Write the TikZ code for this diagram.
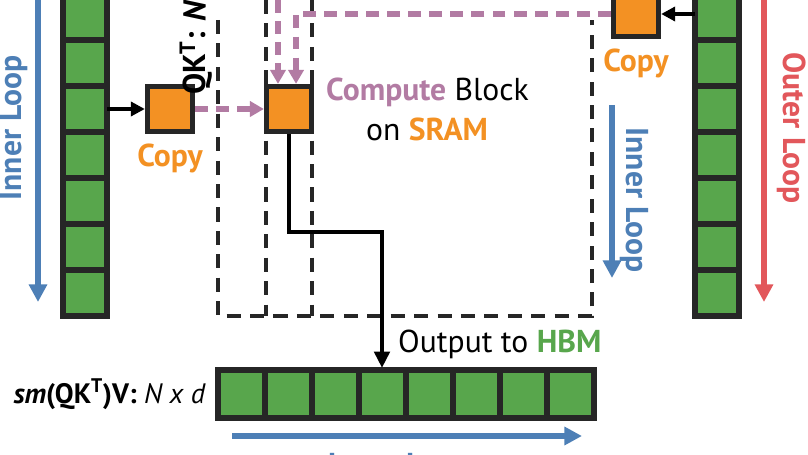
\documentclass[tikz,border=0pt]{standalone}
\usepackage{fontspec}
\setmainfont{PT Sans}
\usetikzlibrary{positioning,arrows.meta}
\definecolor{hbm}{HTML}{58A64C}
\definecolor{sram}{HTML}{F39123}
\definecolor{pinkish}{HTML}{B27BA3}
\definecolor{loopblue}{HTML}{4D7FB6}
\definecolor{loopred}{HTML}{E2575B}
\tikzset{%
    cell/.style={fill=hbm, draw=black!85, line width=4.5pt},
    block/.style={fill=sram, draw=black!85, line width=4.5pt, minimum size=1.35cm, inner sep=0pt},
    label/.style={font=\fontsize{27}{31}\selectfont, inner sep=0pt},
    loop/.style={line width=5pt, -{Triangle[length=15pt,width=15pt]}},
    move/.style={pinkish, line width=5pt, dash pattern=on 11pt off 7pt, -{Triangle[length=12pt,width=13pt]}},
    frame/.style={black!85, line width=2.6pt, dash pattern=on 12pt off 8pt}
}

\begin{document}
\begin{tikzpicture}[x=0.03cm, y=-0.03cm]
    \useasboundingbox (0,0) rectangle (808,455);
    \clip (0,0) rectangle (808,455);
    % HBM columns
    \foreach \y in {-6,40,...,270}
    {
    \draw[cell] (63,\y) rectangle (107,\y+46);
    \draw[cell] (695,\y) rectangle (739,\y+46);
    }
    % dashed SRAM region
    \draw[frame] (218,20) -- (218,316) -- (592,316) -- (592,20);
    \draw[frame] (266,0) -- (266,316);
    \draw[frame] (312,0) -- (312,316);
    % blocks
    \node[block] (qcopy) at (170,109) {};
    \node[block] (comp) at (289,109) {};
    \node[block] (kcopy) at (636,14) {};
    \node[label, sram, below=8pt of qcopy] (qlab) {\bfseries Copy};
    \node[label, sram, below=8pt of kcopy] (klab) {\bfseries Copy};
    \coordinate (qsrc) at (107,109);
    \coordinate (ksrc) at (695,14);
    \draw[line width=3.5pt, -{Triangle[length=12pt,width=12pt]}] (qsrc) -- (qcopy);
    \draw[line width=3.5pt, -{Triangle[length=12pt,width=12pt]}] (ksrc) -- (kcopy);
    \draw[move] (qcopy) -- (comp);
    \draw[move] (kcopy.west) -| ([xshift=6pt]comp.north);
    \coordinate (top) at (278,0);
    \draw[move] (top) -- (top |- comp.north);
    \node[label, anchor=west] (cb) at (326,92) {\textcolor{pinkish}{\bfseries Compute} Block};
    \node[label, anchor=west] (on) at (366,129) {on \textcolor{sram}{\bfseries SRAM}};
    \node[label, rotate=90, anchor=east] (qk) at (196,0) {\bfseries QK\textsuperscript{T}: \textit{N}};
    % output row
    \foreach \i in {0,...,7}
    {
    \draw[cell] (218+47*\i,370) rectangle (218+47*\i+47,418);
    }
    \coordinate (outtop) at (382,368);
    \draw[line width=3.5pt, -{Triangle[length=14pt,width=13pt]}] (comp.south) |- (382,232) -- (outtop);
    \node[label, anchor=west] (out) at (398,344) {Output to \textcolor{hbm}{\bfseries HBM}};
    \node[label, anchor=east, font=\fontsize{24}{28}\selectfont] (res) at (206,394) {\textbf{\textit{sm}(QK\textsuperscript{T})V:} \textit{N x d}};
    % loop arrows
    \draw[loop, loopblue] (38,0) -- (38,302);
    \node[label, loopblue, rotate=90] (il1) at (14,128) {\bfseries Inner Loop};
    \draw[loop, loopblue] (612,105) -- (612,278);
    \node[label, loopblue, rotate=-90] (il2) at (634,200) {\bfseries Inner Loop};
    \draw[loop, loopred] (764,0) -- (764,302);
    \node[label, loopred, rotate=-90] (ol) at (792,128) {\bfseries Outer Loop};
    \draw[loop, loopblue] (232,436) -- (582,436);
    \node[label, loopblue] (il3) at (400,468) {\bfseries Inner Loop};
\end{tikzpicture}
\end{document}
